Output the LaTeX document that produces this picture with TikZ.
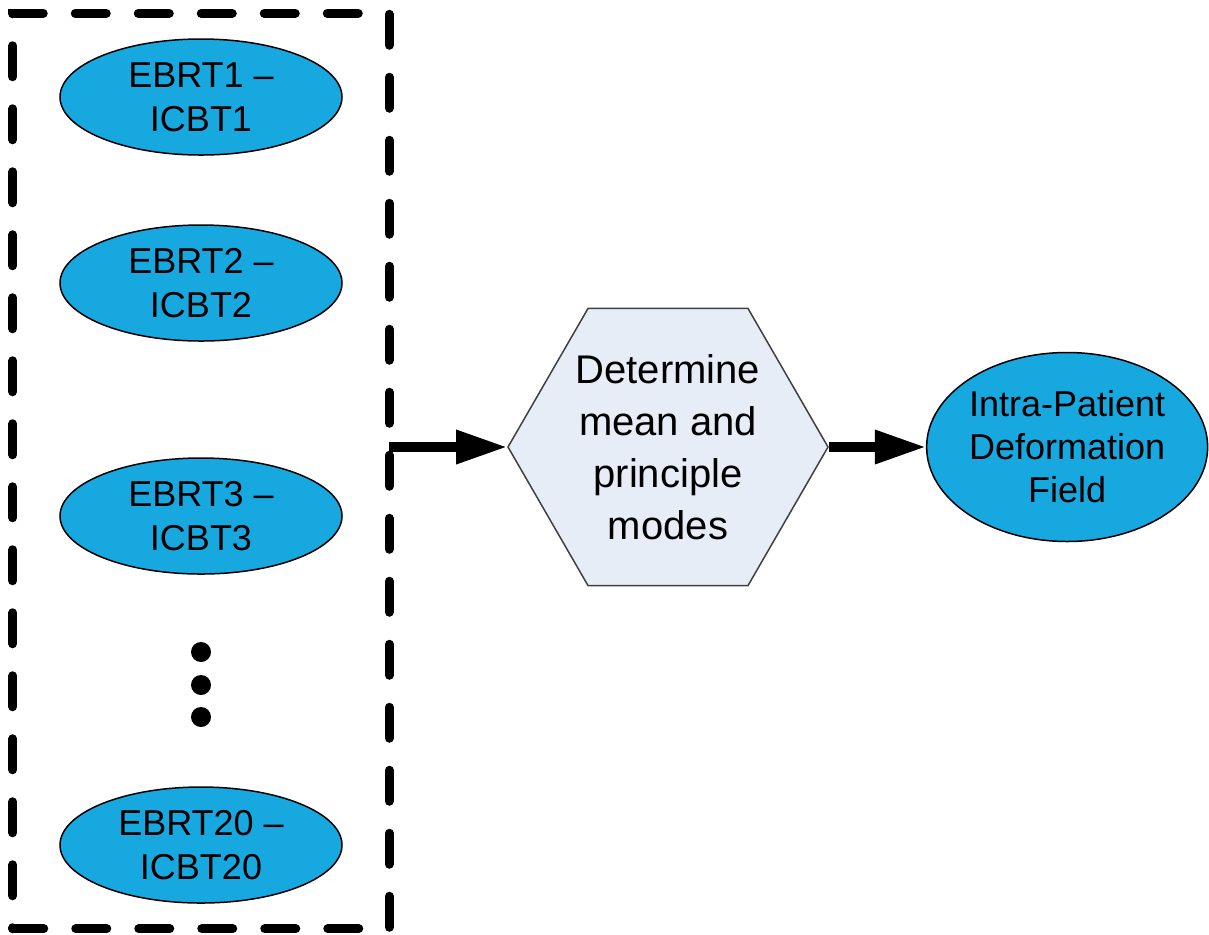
\documentclass[tikz,border=0pt]{standalone}
\usepackage{fontspec}
\setmainfont{Liberation Sans}
\usetikzlibrary{shapes,arrows.meta,positioning,fit}
\definecolor{pairblue}{RGB}{24,168,224}
\definecolor{hexfill}{RGB}{230,237,247}

\begin{document}
\begin{tikzpicture}[x=0.5pt,y=-0.5pt]
  \tikzstyle{pair} = [ellipse, draw, line width=0.75pt, fill=pairblue, minimum width=141pt, minimum height=58pt, inner sep=0pt, align=center, font=\fontsize{18}{22}\selectfont]
  \tikzstyle{process} = [regular polygon, regular polygon sides=6, draw=black!75, line width=0.75pt, fill=hexfill, minimum size=160pt, inner sep=0pt, align=center, font=\fontsize{20}{26}\selectfont]
  \tikzstyle{group} = [draw, line width=4.5pt, dash pattern=on 15.5pt off 16pt, line cap=round, inner xsep=23.25pt, inner ysep=12.5pt, outer sep=0pt]
  \tikzstyle{arrow} = [line width=4.75pt, -{Triangle[length=25.5pt,width=16pt]}]

  \useasboundingbox (0,0) rectangle (1209,934);

  \node[pair] (pair1) at (201,97) {EBRT1 --\\ICBT1};
  \node[pair] (pair2) at (201,283) {EBRT2 --\\ICBT2};
  \node[pair] (pair3) at (201,516) {EBRT3 --\\ICBT3};
  \node[pair] (pair20) at (201,845) {EBRT20 --\\ICBT20};
  \foreach \y in {652,685,717}
    \fill (201,\y) circle (5pt);
  \node[group, fit=(pair1)(pair20)] (cases) {};

  \node[process] (modes) at (668,447) {Determine\\mean and\\principle\\modes};
  \node[pair, right=48.5pt of modes, minimum width=140.5pt, minimum height=94.5pt, font=\fontsize{18}{21.5}\selectfont] (field) {Intra-Patient\\Deformation\\Field};

  \draw[arrow] (cases.east |- modes.west) -- (modes.west);
  \draw[arrow] (modes.east) -- (field.west);
\end{tikzpicture}
\end{document}
